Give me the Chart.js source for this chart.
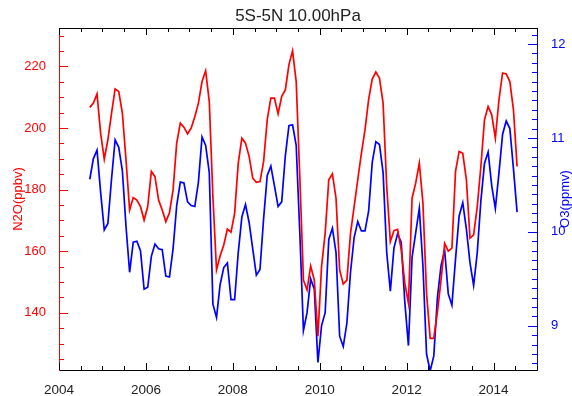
<!DOCTYPE html>
<html><head><meta charset="utf-8">
<script src="https://cdn.jsdelivr.net/npm/chart.js@4"></script>
<style>html,body{margin:0;padding:0;background:#fff}</style>
</head><body>
<canvas id="c" width="572" height="396"></canvas>
<script>
const chartTitle = "5S-5N 10.00hPa";
const leftAxisTitle = "N2O(ppbv)";
const rightAxisTitle = "O3(ppmv)";
const startYear = 2004, startMonth = 9; // monthly series, Sep 2004 .. Jul 2014
const n2o = [206.7,208.1,211.1,198.3,189.9,196.2,204.8,212.7,211.9,204.8,189.7,173.4,
  177.4,176.6,174.5,170.1,174.5,185.9,184.2,176.6,173.4,169.6,172.5,179.9,
  195.1,201.6,200.3,198.1,200.0,203.7,208.1,215.1,218.6,208.6,177.7,153.9,
  158.5,162.0,167.2,166.2,172.3,188.6,196.7,195.1,190.8,183.7,182.4,182.6,
  189.1,202.7,209.7,209.7,204.6,210.3,212.4,220.6,225.1,215.1,184.2,150.6,
  147.4,155.2,150.6,132.4,155.0,165.8,183.2,185.1,177.2,153.9,149.3,150.6,
  165.8,174.5,183.2,191.8,199.4,209.2,215.9,218.2,216.2,208.1,181.0,163.1,
  166.7,167.1,160.5,149.6,143.1,177.2,182.1,188.6,175.6,146.3,131.7,131.7,
  140.3,150.6,162.5,160.0,161.0,185.9,192.4,191.8,183.2,164.2,165.3,174.5,
  187.5,202.7,207.0,204.3,196.7,209.2,217.9,217.6,215.1,205.9,187.5];
const o3 = [10.56,10.78,10.87,10.42,10.02,10.09,10.56,10.98,10.90,10.65,10.06,9.57,
  9.89,9.90,9.80,9.39,9.41,9.74,9.87,9.82,9.81,9.53,9.52,9.82,
  10.28,10.53,10.52,10.32,10.28,10.27,10.53,11.01,10.92,10.63,9.23,9.09,
  9.44,9.62,9.67,9.28,9.28,9.78,10.16,10.29,10.10,9.82,9.54,9.60,
  10.14,10.60,10.70,10.49,10.27,10.32,10.81,11.13,11.14,10.92,9.99,8.95,
  9.14,9.50,9.39,8.61,9.00,9.14,9.92,10.04,9.78,8.89,8.78,9.03,
  9.57,9.94,10.11,10.01,10.01,10.22,10.74,10.96,10.93,10.63,9.78,9.37,
  9.83,9.98,9.89,9.25,8.79,9.73,9.99,10.25,9.64,8.70,8.52,8.68,
  9.30,9.64,9.80,9.34,9.22,9.71,10.17,10.31,10.03,9.67,9.43,9.78,
  10.33,10.73,10.85,10.49,10.25,10.63,11.04,11.18,11.10,10.67,10.21];
const xRange = [2004, 2015];
const n2oRange = [121.4, 232.5];
const o3Range = [8.53, 12.17];

const times = n2o.map((_, i) => startYear + (startMonth - 1 + i + 0.5) / 12);
const FONT = "'Liberation Sans', Arial, Helvetica, sans-serif";
const RED = '#ff0000', BLUE = '#0000ff', INK = '#222222';

const deco = {
  id: 'deco',
  afterDraw(chart) {
    const {ctx, chartArea: a, scales} = chart;
    ctx.save();
    ctx.lineWidth = 1;
    const seg = (x1, y1, x2, y2) => { ctx.beginPath(); ctx.moveTo(x1, y1); ctx.lineTo(x2, y2); ctx.stroke(); };
    ctx.strokeStyle = '#000';
    seg(a.left, Math.round(a.top) + 0.5, a.right, Math.round(a.top) + 0.5);
    for (let k = xRange[0] * 2; k <= xRange[1] * 2; k++) {
      const v = k / 2;
      const px = Math.round(scales.x.getPixelForValue(v)) + 0.5;
      const L = (k % 4 === 0) ? 7 : 4;
      seg(px, a.bottom, px, a.bottom - L);
      seg(px, a.top, px, a.top + L);
    }
    ctx.strokeStyle = RED;
    for (let v = 125; v <= 230; v += 5) {
      const py = Math.round(scales.y.getPixelForValue(v)) + 0.5;
      const L = (v % 20 === 0) ? 9 : 5;
      seg(a.left, py, a.left + L, py);
    }
    ctx.strokeStyle = BLUE;
    for (let k = 86; k <= 121; k++) {
      const py = Math.round(scales.y1.getPixelForValue(k / 10)) + 0.5;
      const L = (k % 10 === 0) ? 9 : 5;
      seg(a.right, py, a.right - L, py);
    }
    ctx.textAlign = 'center';
    ctx.textBaseline = 'middle';
    ctx.fillStyle = INK;
    ctx.font = `17px ${FONT}`;
    ctx.fillText(chartTitle, (a.left + a.right) / 2, 16.5);
    const cy = (a.top + a.bottom) / 2;
    ctx.font = `13px ${FONT}`;
    ctx.save(); ctx.translate(18.5, cy); ctx.rotate(-Math.PI / 2);
    ctx.fillStyle = RED; ctx.fillText(leftAxisTitle, 0, 0); ctx.restore();
    ctx.save(); ctx.translate(565, cy); ctx.rotate(-Math.PI / 2);
    ctx.fillStyle = BLUE; ctx.fillText(rightAxisTitle, 0, 0); ctx.restore();
    ctx.restore();
  }
};

new Chart(document.getElementById('c'), {
  type: 'line',
  data: {
    datasets: [
      { label: 'N2O', data: times.map((t, i) => ({x: t, y: n2o[i]})), yAxisID: 'y',
        borderColor: RED, borderWidth: 1.7, pointRadius: 0, pointHoverRadius: 0, tension: 0, fill: false },
      { label: 'O3', data: times.map((t, i) => ({x: t, y: o3[i]})), yAxisID: 'y1',
        borderColor: BLUE, borderWidth: 1.7, pointRadius: 0, pointHoverRadius: 0, tension: 0, fill: false }
    ]
  },
  options: {
    responsive: false, animation: false, devicePixelRatio: 1,
    layout: { padding: { top: 28, left: 0, right: 0, bottom: 0 }, autoPadding: false },
    plugins: { legend: { display: false }, title: { display: false }, tooltip: { enabled: false } },
    scales: {
      x: { type: 'linear', position: 'bottom', min: xRange[0], max: xRange[1],
        grid: { display: false }, border: { display: true, color: '#000', width: 1 },
        ticks: { stepSize: 2, includeBounds: false, color: INK, padding: 4.5, maxRotation: 0, autoSkip: false,
          font: { family: FONT, size: 13.5 }, callback: v => String(v) },
        afterFit: s => { s.height = 26; } },
      y: { type: 'linear', position: 'left', min: n2oRange[0], max: n2oRange[1],
        grid: { display: false }, border: { display: true, color: RED, width: 1 },
        ticks: { stepSize: 20, includeBounds: false, color: RED, padding: 5,
          font: { family: FONT, size: 13 } },
        afterFit: s => { s.width = 59; } },
      y1: { type: 'linear', position: 'right', min: o3Range[0], max: o3Range[1],
        grid: { display: false }, border: { display: true, color: BLUE, width: 1 },
        ticks: { stepSize: 1, includeBounds: false, color: BLUE, padding: 6,
          font: { family: FONT, size: 13 } },
        afterFit: s => { s.width = 35; } }
    }
  },
  plugins: [deco]
});
</script>
</body></html>
